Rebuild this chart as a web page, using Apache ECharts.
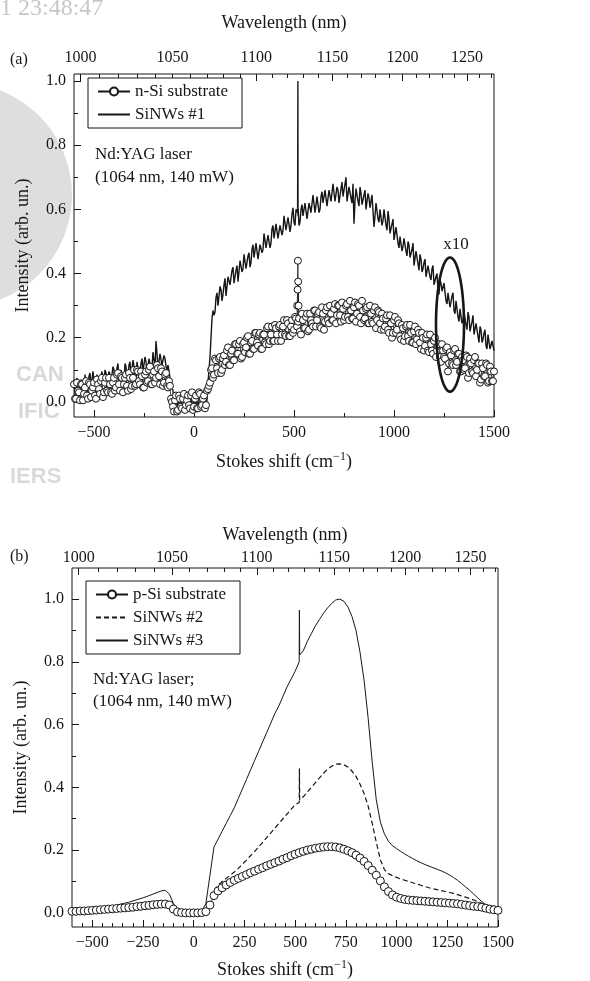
<!DOCTYPE html>
<html><head><meta charset="utf-8">
<script src="https://cdn.jsdelivr.net/npm/echarts@6/dist/echarts.min.js"></script>
<style>html,body{margin:0;padding:0;background:#fff}#c{width:590px;height:981px}</style>
</head><body><div id="c"></div>
<script>
const FONT = '"Liberation Serif", "Times New Roman", serif';
const INK = '#161616';

// ---------- Panel (a) ----------
const shiftA = [
-600,-590,-580,-570,-560,-550,-540,-530,-520,-510,
-500,-490,-480,-470,-460,-450,-440,-430,-420,-410,
-400,-390,-380,-370,-360,-350,-340,-330,-320,-310,
-300,-290,-280,-270,-260,-250,-240,-230,-220,-210,
-200,-190,-180,-170,-160,-150,-140,-130,-120,-110,
-100,-90,-80,-70,-60,-50,-40,-30,-20,-10,
0,10,20,30,40,50,60,70,80,90,
100,110,120,130,140,150,160,170,180,190,
200,210,220,230,240,250,260,270,280,290,
300,310,320,330,340,350,360,370,380,390,
400,410,420,430,440,450,460,470,480,490,
500,510,520,530,540,550,560,570,580,590,
600,610,620,630,640,650,660,670,680,690,
700,710,720,730,740,750,760,770,780,790,
800,810,820,830,840,850,860,870,880,890,
900,910,920,930,940,950,960,970,980,990,
1000,1010,1020,1030,1040,1050,1060,1070,1080,1090,
1100,1110,1120,1130,1140,1150,1160,1170,1180,1190,
1200,1210,1220,1230,1240,1250,1260,1270,1280,1290,
1300,1310,1320,1330,1340,1350,1360,1370,1380,1390,
1400,1410,1420,1430,1440,1450,1460,1470,1480,1490,
1500];
const shiftA2 = [
-595,-585,-575,-565,-555,-545,-535,-525,-515,-505,
-495,-485,-475,-465,-455,-445,-435,-425,-415,-405,
-395,-385,-375,-365,-355,-345,-335,-325,-315,-305,
-295,-285,-275,-265,-255,-245,-235,-225,-215,-205,
-195,-185,-175,-165,-155,-145,-135,-125,-115,-105,
-95,-85,-75,-65,-55,-45,-35,-25,-15,-5,
5,15,25,35,45,55,65,75,85,95,
105,115,125,135,145,155,165,175,185,195,
205,215,225,235,245,255,265,275,285,295,
305,315,325,335,345,355,365,375,385,395,
405,415,425,435,445,455,465,475,485,495,
505,515,525,535,545,555,565,575,585,595,
605,615,625,635,645,655,665,675,685,695,
705,715,725,735,745,755,765,775,785,795,
805,815,825,835,845,855,865,875,885,895,
905,915,925,935,945,955,965,975,985,995,
1005,1015,1025,1035,1045,1055,1065,1075,1085,1095,
1105,1115,1125,1135,1145,1155,1165,1175,1185,1195,
1205,1215,1225,1235,1245,1255,1265,1275,1285,1295,
1305,1315,1325,1335,1345,1355,1365,1375,1385,1395,
1405,1415,1425,1435,1445,1455,1465,1475,1485,1495];
// SiNWs #1 (noisy spectrum) on shiftA and shiftA2
const nwA = [
0.07,0.04,0.08,0.03,0.06,0.03,0.08,0.05,0.09,0.04,
0.065,0.03,0.08,0.045,0.095,0.065,0.09,0.04,0.085,0.06,
0.10,0.06,0.12,0.06,0.10,0.06,0.11,0.08,0.125,0.075,
0.11,0.065,0.125,0.09,0.135,0.09,0.125,0.085,0.14,0.11,
0.155,0.19,0.105,0.15,0.115,0.145,0.11,0.115,0.075,0.055,
0.0,0.03,-0.03,0.02,-0.02,0.03,-0.025,0.01,-0.03,0.035,
-0.01,0.02,-0.025,0.03,-0.02,0.015,-0.01,0.06,0.14,0.26,
0.27,0.325,0.30,0.36,0.315,0.365,0.33,0.39,0.365,0.41,
0.37,0.41,0.375,0.44,0.405,0.46,0.415,0.455,0.42,0.475,
0.45,0.495,0.445,0.49,0.465,0.525,0.48,0.52,0.48,0.54,
0.51,0.555,0.51,0.55,0.52,0.58,0.535,0.575,0.53,0.585,
0.56,0.60,0.58,0.56,0.615,0.575,0.615,0.57,0.625,0.595,
0.64,0.59,0.635,0.60,0.655,0.615,0.66,0.605,0.66,0.63,
0.675,0.625,0.66,0.625,0.685,0.64,0.70,0.63,0.67,0.62,
0.555,0.665,0.625,0.67,0.615,0.645,0.60,0.65,0.605,0.645,
0.545,0.62,0.57,0.60,0.55,0.60,0.55,0.595,0.525,0.555,
0.505,0.545,0.495,0.515,0.47,0.51,0.47,0.50,0.45,0.475,
0.425,0.47,0.43,0.46,0.405,0.435,0.39,0.425,0.39,0.415,
0.365,0.39,0.345,0.38,0.345,0.37,0.315,0.34,0.295,0.33,
0.285,0.315,0.265,0.29,0.245,0.28,0.24,0.28,0.22,0.25,
0.21,0.245,0.205,0.235,0.185,0.215,0.175,0.21,0.165,0.19,
0.16];
const nwA2 = [
0.03,0.075,0.02,0.07,0.045,0.085,0.03,0.08,0.045,0.095,
0.04,0.085,0.035,0.08,0.055,0.10,0.045,0.095,0.06,0.11,
0.06,0.105,0.055,0.10,0.075,0.12,0.065,0.115,0.08,0.13,
0.08,0.125,0.075,0.12,0.095,0.14,0.085,0.135,0.10,0.155,
0.105,0.15,0.10,0.145,0.12,0.135,0.10,0.095,0.055,0.035,
-0.01,0.03,-0.03,0.015,-0.01,0.03,-0.025,0.02,-0.015,0.035,
-0.02,0.025,-0.03,0.015,-0.01,0.035,0.005,0.10,0.20,0.285,
0.28,0.34,0.295,0.35,0.335,0.385,0.335,0.39,0.365,0.42,
0.375,0.425,0.38,0.435,0.415,0.465,0.415,0.465,0.435,0.49,
0.445,0.495,0.445,0.495,0.475,0.525,0.475,0.525,0.495,0.55,
0.505,0.555,0.505,0.555,0.535,0.58,0.53,0.58,0.55,0.605,
0.55,0.60,0.55,0.60,0.58,0.62,0.57,0.62,0.59,0.645,
0.59,0.64,0.59,0.64,0.62,0.66,0.61,0.66,0.625,0.68,
0.625,0.67,0.62,0.665,0.64,0.68,0.625,0.67,0.635,0.68,
0.625,0.67,0.61,0.65,0.62,0.66,0.60,0.635,0.60,0.64,
0.58,0.62,0.56,0.595,0.565,0.595,0.535,0.57,0.525,0.57,
0.505,0.545,0.48,0.515,0.485,0.515,0.455,0.49,0.45,0.495,
0.43,0.47,0.41,0.445,0.415,0.445,0.385,0.42,0.38,0.425,
0.36,0.40,0.335,0.37,0.34,0.37,0.305,0.34,0.30,0.34,
0.275,0.315,0.25,0.285,0.255,0.285,0.225,0.265,0.225,0.27,
0.205,0.245,0.185,0.225,0.195,0.225,0.165,0.205,0.165,0.195];
// n-Si substrate (open circles) on shiftA and shiftA2
const nSiA = [
0.055,0.01,0.035,0.005,0.055,0.025,0.065,0.01,0.055,0.035,
0.06,0.01,0.055,0.025,0.075,0.03,0.075,0.03,0.055,0.025,
0.075,0.045,0.09,0.035,0.075,0.055,0.085,0.035,0.075,0.05,
0.10,0.055,0.095,0.055,0.08,0.045,0.095,0.065,0.11,0.055,
0.095,0.075,0.105,0.055,0.095,0.06,0.09,0.045,0.05,0.0,
-0.03,0.02,-0.025,0.01,-0.02,0.025,-0.01,0.02,-0.02,0.03,
-0.015,0.02,-0.02,0.025,-0.01,0.02,-0.01,0.04,0.06,0.105,
0.085,0.13,0.09,0.14,0.10,0.145,0.125,0.17,0.115,0.16,
0.13,0.18,0.15,0.19,0.14,0.185,0.17,0.205,0.15,0.19,
0.165,0.215,0.175,0.215,0.165,0.21,0.18,0.235,0.19,0.235,
0.19,0.23,0.19,0.24,0.21,0.255,0.205,0.245,0.205,0.255,
0.225,0.26,0.25,0.22,0.275,0.23,0.265,0.22,0.275,0.245,
0.285,0.235,0.275,0.235,0.295,0.225,0.285,0.255,0.30,0.255,
0.29,0.245,0.30,0.27,0.31,0.255,0.30,0.265,0.315,0.26,
0.295,0.25,0.305,0.265,0.315,0.255,0.29,0.245,0.30,0.25,
0.285,0.23,0.285,0.245,0.275,0.225,0.26,0.225,0.27,0.20,
0.255,0.215,0.255,0.205,0.24,0.19,0.235,0.205,0.24,0.185,
0.22,0.18,0.225,0.185,0.215,0.16,0.20,0.16,0.21,0.16,
0.19,0.14,0.175,0.14,0.18,0.14,0.165,0.095,0.155,0.12,
0.16,0.115,0.15,0.095,0.14,0.10,0.145,0.075,0.135,0.095,
0.13,0.08,0.12,0.06,0.12,0.08,0.12,0.06,0.11,0.065,
0.095];
const nSiA2 = [
0.01,0.06,0.03,0.055,0.005,0.045,0.02,0.06,0.015,0.045,
0.02,0.07,0.04,0.065,0.015,0.06,0.035,0.075,0.03,0.06,
0.035,0.085,0.055,0.08,0.03,0.075,0.05,0.09,0.04,0.075,
0.05,0.10,0.065,0.095,0.045,0.085,0.06,0.10,0.055,0.085,
0.06,0.115,0.08,0.105,0.05,0.085,0.05,0.065,0.01,-0.015,
0.005,-0.03,0.02,-0.015,0.01,-0.025,0.005,-0.01,0.02,-0.025,
0.01,-0.02,0.03,-0.015,0.01,-0.02,0.035,0.05,0.10,0.075,
0.135,0.105,0.135,0.09,0.135,0.115,0.16,0.115,0.15,0.13,
0.18,0.15,0.18,0.135,0.18,0.155,0.20,0.15,0.185,0.165,
0.215,0.185,0.21,0.165,0.21,0.185,0.23,0.18,0.21,0.19,
0.24,0.21,0.235,0.19,0.235,0.21,0.255,0.205,0.235,0.215,
0.265,0.235,0.26,0.21,0.255,0.23,0.275,0.225,0.255,0.235,
0.285,0.255,0.28,0.23,0.275,0.25,0.295,0.245,0.275,0.255,
0.305,0.27,0.30,0.25,0.29,0.265,0.305,0.255,0.285,0.26,
0.31,0.275,0.30,0.245,0.285,0.26,0.295,0.245,0.275,0.245,
0.295,0.255,0.28,0.225,0.26,0.235,0.27,0.215,0.245,0.215,
0.265,0.225,0.245,0.195,0.23,0.205,0.24,0.19,0.215,0.185,
0.235,0.195,0.215,0.165,0.20,0.175,0.21,0.155,0.18,0.15,
0.20,0.16,0.18,0.125,0.16,0.135,0.17,0.12,0.145,0.115,
0.165,0.125,0.15,0.095,0.13,0.105,0.14,0.09,0.12,0.09,
0.14,0.10,0.12,0.07,0.105,0.08,0.115,0.065,0.095,0.065];
const spikeShiftNwA = [518, 519.5, 521];
const spikeNwA = [0.59, 1.0, 0.60];
const spikeShiftNSiA = [516, 518, 519.5, 521, 523];
const spikeNSiA = [0.30, 0.35, 0.44, 0.375, 0.30];
const ellipseA = [1280, 0.241, 70, 0.209];   // centre shift, centre I, half-width, half-height
const ellipseLabelA = [1310, 0.49, 'x10'];

// ---------- Panel (b) ----------
const shiftB = [
-600,-580,-560,-540,-520,-500,-480,-460,-440,-420,
-400,-380,-360,-340,-320,-300,-280,-260,-240,-220,
-200,-180,-160,-140,-120,-100,-80,-60,-40,-20,
0,20,40,60,80,100,120,140,160,180,
200,220,240,260,280,300,320,340,360,380,
400,420,440,460,480,500,520,540,560,580,
600,620,640,660,680,700,720,740,760,780,
800,820,840,860,880,900,920,940,960,980,
1000,1020,1040,1060,1080,1100,1120,1140,1160,1180,
1200,1220,1240,1260,1280,1300,1320,1340,1360,1380,
1400,1420,1440,1460,1480,1500];
const pSiB = [
0.005,0.005,0.006,0.006,0.007,0.008,0.009,0.010,0.011,0.012,
0.013,0.014,0.015,0.016,0.017,0.018,0.020,0.021,0.023,0.024,
0.026,0.027,0.028,0.028,0.025,0.012,0.003,0.001,0.0,0.0,
0.0,0.0,0.001,0.004,0.025,0.055,0.07,0.08,0.089,0.097,
0.104,0.11,0.116,0.122,0.128,0.133,0.139,0.144,0.15,0.155,
0.16,0.165,0.171,0.176,0.182,0.187,0.192,0.196,0.2,0.203,
0.206,0.208,0.21,0.211,0.211,0.21,0.207,0.203,0.198,0.192,
0.184,0.175,0.164,0.151,0.136,0.12,0.102,0.083,0.068,0.057,
0.05,0.046,0.043,0.041,0.04,0.039,0.038,0.037,0.036,0.035,
0.034,0.033,0.032,0.031,0.03,0.029,0.027,0.025,0.023,0.021,
0.02,0.018,0.015,0.012,0.01,0.008];
const nw2B = [
0.006,0.006,0.007,0.007,0.008,0.009,0.01,0.011,0.012,0.013,
0.014,0.015,0.016,0.017,0.018,0.02,0.021,0.023,0.024,0.026,
0.028,0.029,0.03,0.03,0.026,0.012,0.003,0.001,0.0,0.0,
0.0,0.0,0.001,0.004,0.03,0.07,0.088,0.1,0.11,0.12,
0.13,0.142,0.155,0.168,0.182,0.195,0.21,0.225,0.24,0.255,
0.27,0.285,0.3,0.315,0.33,0.345,0.352,0.37,0.385,0.4,
0.415,0.43,0.445,0.458,0.467,0.474,0.475,0.472,0.465,0.452,
0.435,0.41,0.38,0.34,0.285,0.225,0.17,0.138,0.125,0.118,
0.113,0.108,0.104,0.1,0.096,0.092,0.088,0.084,0.08,0.077,
0.074,0.071,0.068,0.065,0.062,0.058,0.054,0.05,0.046,0.041,
0.036,0.03,0.024,0.018,0.012,0.008];
const nw3B = [
0.008,0.009,0.01,0.011,0.012,0.013,0.014,0.016,0.018,0.02,
0.022,0.025,0.028,0.031,0.034,0.038,0.042,0.046,0.05,0.055,
0.06,0.065,0.07,0.072,0.06,0.03,0.01,0.005,0.004,0.004,
0.004,0.004,0.005,0.03,0.12,0.21,0.235,0.26,0.285,0.31,
0.335,0.365,0.395,0.425,0.455,0.485,0.515,0.545,0.575,0.605,
0.635,0.66,0.69,0.72,0.745,0.77,0.80,0.835,0.865,0.89,
0.915,0.935,0.955,0.972,0.986,0.997,1.0,0.993,0.975,0.945,
0.9,0.83,0.74,0.62,0.48,0.36,0.29,0.252,0.228,0.214,
0.205,0.196,0.188,0.18,0.173,0.166,0.16,0.154,0.149,0.144,
0.139,0.134,0.128,0.121,0.113,0.104,0.094,0.083,0.072,0.06,
0.048,0.036,0.026,0.018,0.013,0.01];
const spikeShiftB = [521, 522.5];
const spikeNw2B = [0.46, 0.36];
const spikeNw3B = [0.965, 0.822];

// ---------- Axis ticks ----------
const shiftMajorA = [-500, 0, 500, 1000, 1500];
const shiftMinorA = [-250, 250, 750, 1250];
const shiftMajorB = [-500, -250, 0, 250, 500, 750, 1000, 1250, 1500];
const shiftMinorB = [-550,-450,-400,-350,-300,-200,-150,-100,-50,50,100,150,200,300,350,400,450,
  550,600,650,700,800,850,900,950,1050,1100,1150,1200,1300,1350,1400,1450];
const wlMajor = [1000, 1050, 1100, 1150, 1200, 1250];
const wlMinor = [1010,1020,1030,1040,1060,1070,1080,1090,1110,1120,1130,1140,
  1160,1170,1180,1190,1210,1220,1230,1240,1260,1270];
const intMajor = [0, 0.2, 0.4, 0.6, 0.8, 1.0];
const intMinor = [0.1, 0.3, 0.5, 0.7, 0.9];
// top axis in absolute wavenumber (1/λ, cm^-1), range
const wnRange = [7860, 10034];

function pairs(xs, ys, sx, sy) {
  const p = xs.map((x, i) => [x, ys[i]]);
  if (sx) sx.forEach((x, i) => p.push([x, sy[i]]));
  return p.sort((a, b) => a[0] - b[0]);
}
const fmtShift = v => (v < 0 ? '\u2212' + Math.abs(v) : String(v));
const labelStyle = {color: INK, fontFamily: FONT, fontSize: 16};
const nameRich = {
  t: {fontFamily: FONT, fontSize: 18, color: INK, lineHeight: 22},
  s: {fontFamily: FONT, fontSize: 12, color: INK, lineHeight: 12, verticalAlign: 'top'}
};

function xAxes(grid, major, minor, g) {
  return [
    {gridIndex: grid, type: 'value', position: 'bottom', min: -600, max: 1500,
     axisLine: {show: false, onZero: false}, splitLine: {show: false},
     axisTick: {inside: true, length: 7, customValues: major, lineStyle: {color: INK}},
     axisLabel: Object.assign({customValues: major, formatter: fmtShift, margin: g.bm}, labelStyle),
     name: '{t|Stokes shift (cm}{s|\u22121}{t|)}', nameLocation: 'middle', nameGap: g.bn,
     nameTextStyle: {rich: nameRich}},
    {gridIndex: grid, type: 'value', position: 'bottom', min: -600, max: 1500,
     axisLine: {show: false, onZero: false}, splitLine: {show: false},
     axisTick: {inside: true, length: 4, customValues: minor, lineStyle: {color: INK}},
     axisLabel: {show: false}},
    {gridIndex: grid, type: 'value', position: 'top', inverse: true, min: wnRange[0], max: wnRange[1],
     axisLine: {show: false, onZero: false}, splitLine: {show: false},
     axisTick: {inside: true, length: 7, customValues: wlMajor.map(l => 1e7 / l), lineStyle: {color: INK}},
     axisLabel: Object.assign({customValues: wlMajor.map(l => 1e7 / l),
       formatter: v => String(Math.round(1e7 / v)), margin: g.tm}, labelStyle),
     name: 'Wavelength (nm)', nameLocation: 'middle', nameGap: g.tn,
     nameTextStyle: {fontFamily: FONT, fontSize: 18, color: INK}},
    {gridIndex: grid, type: 'value', position: 'top', inverse: true, min: wnRange[0], max: wnRange[1],
     axisLine: {show: false, onZero: false}, splitLine: {show: false},
     axisTick: {inside: true, length: 4, customValues: wlMinor.map(l => 1e7 / l), lineStyle: {color: INK}},
     axisLabel: {show: false}}
  ];
}
function yAxes(grid, min, max) {
  return [
    {gridIndex: grid, type: 'value', position: 'left', min: min, max: max,
     axisLine: {show: false, onZero: false}, splitLine: {show: false},
     axisTick: {inside: true, length: 7, customValues: intMajor, lineStyle: {color: INK}},
     axisLabel: Object.assign({customValues: intMajor, formatter: v => v.toFixed(1), margin: 8}, labelStyle),
     name: 'Intensity (arb. un.)', nameLocation: 'middle', nameGap: 42,
     nameTextStyle: {fontFamily: FONT, fontSize: 18, color: INK}},
    {gridIndex: grid, type: 'value', position: 'left', min: min, max: max,
     axisLine: {show: false, onZero: false}, splitLine: {show: false},
     axisTick: {inside: true, length: 4, customValues: intMinor, lineStyle: {color: INK}},
     axisLabel: {show: false}}
  ];
}
const legendBase = {
  orient: 'vertical', itemWidth: 32, itemHeight: 10, itemGap: 6,
  padding: [5, 14, 5, 9], borderColor: INK, borderWidth: 1, borderRadius: 0,
  backgroundColor: '#fff', selectedMode: false,
  textStyle: {fontFamily: FONT, fontSize: 17, color: INK}
};
const noDot = {color: 'rgba(0,0,0,0)', borderColor: 'rgba(0,0,0,0)', borderWidth: 0};
const circleStyle = {color: '#fff', borderColor: INK, borderWidth: 1};

const ellipseRender = function (params, api) {
  const c = api.coord([api.value(0), api.value(1)]);
  const s = api.size([api.value(2), api.value(3)]);
  const pts = [];
  for (let k = 0; k <= 90; k++) {
    const t = k / 90 * 2 * Math.PI;
    pts.push([c[0] + s[0] * Math.cos(t), c[1] + s[1] * Math.sin(t)]);
  }
  return {type: 'polygon', shape: {points: pts}, style: {fill: 'none', stroke: INK, lineWidth: 2.6}};
};
const textRender = function (params, api) {
  const c = api.coord([api.value(0), api.value(1)]);
  return {type: 'text', x: c[0], y: c[1],
    style: {text: ellipseLabelA[2], font: '17px ' + FONT, fill: INK, align: 'center', verticalAlign: 'middle'}};
};

const option = {
  animation: false,
  backgroundColor: '#fff',
  grid: [
    {left: 74, top: 74, width: 420, height: 343, show: true, borderColor: INK, borderWidth: 1, backgroundColor: 'transparent'},
    {left: 72, top: 568, width: 426, height: 359, show: true, borderColor: INK, borderWidth: 1, backgroundColor: 'transparent'}
  ],
  xAxis: xAxes(0, shiftMajorA, shiftMinorA, {bm: 8, bn: 34, tm: 8, tn: 42})
    .concat(xAxes(1, shiftMajorB, shiftMinorB, {bm: 8, bn: 32, tm: 2, tn: 24})),
  yAxis: yAxes(0, -0.047, 1.022).concat(yAxes(1, -0.045, 1.099)),
  legend: [
    Object.assign({data: ['n-Si substrate', {name: 'SiNWs #1', itemStyle: noDot}], left: 88, top: 78}, legendBase),
    Object.assign({data: ['p-Si substrate', {name: 'SiNWs #2', itemStyle: noDot}, {name: 'SiNWs #3', itemStyle: noDot}],
      left: 86, top: 581}, legendBase)
  ],
  series: [
    {type: 'line', name: 'SiNWs #1', xAxisIndex: 0, yAxisIndex: 0,
     data: pairs(shiftA, nwA, spikeShiftNwA.concat(shiftA2), spikeNwA.concat(nwA2)),
     symbol: 'none', sampling: null, lineStyle: {color: INK, width: 1.4}, itemStyle: {color: INK}, z: 2},
    {type: 'line', name: 'n-Si substrate', xAxisIndex: 0, yAxisIndex: 0,
     data: pairs(shiftA, nSiA, spikeShiftNSiA.concat(shiftA2), spikeNSiA.concat(nSiA2)),
     symbol: 'circle', symbolSize: 7, showAllSymbol: true,
     itemStyle: circleStyle, lineStyle: {color: INK, width: 0.8}, z: 3},
    {type: 'custom', name: 'ellipse', xAxisIndex: 0, yAxisIndex: 0, data: [ellipseA],
     renderItem: ellipseRender, silent: true, z: 5},
    {type: 'custom', name: 'x10', xAxisIndex: 0, yAxisIndex: 0, data: [ellipseLabelA.slice(0, 2)],
     renderItem: textRender, silent: true, z: 5},
    {type: 'line', name: 'SiNWs #3', xAxisIndex: 4, yAxisIndex: 2,
     data: pairs(shiftB, nw3B, spikeShiftB, spikeNw3B),
     symbol: 'none', lineStyle: {color: INK, width: 1}, itemStyle: {color: INK}, z: 2},
    {type: 'line', name: 'SiNWs #2', xAxisIndex: 4, yAxisIndex: 2,
     data: pairs(shiftB, nw2B, spikeShiftB, spikeNw2B),
     symbol: 'none', lineStyle: {color: INK, width: 1.2, type: [5, 3]}, itemStyle: {color: INK}, z: 2},
    {type: 'line', name: 'p-Si substrate', xAxisIndex: 4, yAxisIndex: 2,
     data: pairs(shiftB, pSiB),
     symbol: 'circle', symbolSize: 8, showAllSymbol: true,
     itemStyle: circleStyle, lineStyle: {color: INK, width: 0.8}, z: 3}
  ],
  graphic: [
    {type: 'circle', z: -100, shape: {cx: -40, cy: 195, r: 112}, style: {fill: '#dedede'}},
    {type: 'text', z: -99, left: 16, top: 364, style: {text: 'CAN', font: 'bold 22px "Liberation Sans"', fill: '#d8d8d8'}},
    {type: 'text', z: -99, left: 18, top: 401, style: {text: 'IFIC', font: 'bold 22px "Liberation Sans"', fill: '#d8d8d8'}},
    {type: 'text', z: -99, left: 10, top: 466, style: {text: 'IERS', font: 'bold 22px "Liberation Sans"', fill: '#dadada'}},
    {type: 'text', left: 0, top: -3, style: {text: '1 23:48:47', font: '24px ' + FONT, fill: '#c8c8c8'}},
    {type: 'text', left: 10, top: 52, style: {text: '(a)', font: '16px ' + FONT, fill: INK}},
    {type: 'text', left: 95, top: 146, style: {text: 'Nd:YAG laser', font: '17px ' + FONT, fill: INK}},
    {type: 'text', left: 95, top: 169, style: {text: '(1064 nm, 140 mW)', font: '17px ' + FONT, fill: INK}},
    {type: 'text', left: 10, top: 549, style: {text: '(b)', font: '16px ' + FONT, fill: INK}},
    {type: 'text', left: 93, top: 671, style: {text: 'Nd:YAG laser;', font: '17px ' + FONT, fill: INK}},
    {type: 'text', left: 93, top: 693, style: {text: '(1064 nm, 140 mW)', font: '17px ' + FONT, fill: INK}}
  ]
};
const chart = echarts.init(document.getElementById('c'), null, {renderer: 'canvas'});
chart.setOption(option);
</script></body></html>
